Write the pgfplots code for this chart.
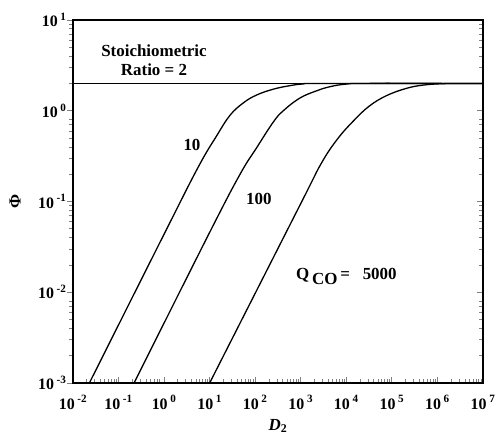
\documentclass[border=0pt]{standalone}
\usepackage{fontspec}
\setmainfont{Liberation Serif}
\usepackage{pgfplots}
\pgfplotsset{compat=1.18}
\usetikzlibrary{calc}

\begin{document}
\begin{tikzpicture}
\begin{axis}[
  scale only axis, width=410bp, height=363bp,
  xmode=log, ymode=log,
  xmin=1e-2, xmax=1e7, ymin=1e-3, ymax=1e1,
  tick align=center,
  xtick pos=bottom, ytick pos=both,
  axis line style={line width=1.2pt},
  major tick length=6bp, minor tick length=4bp,
  major x tick style={line width=1pt, yshift=3bp},
  minor x tick style={line width=0.7pt, yshift=2bp},
  major y tick style={line width=1pt, xshift=-3bp},
  minor y tick style={line width=0.7pt, xshift=-2bp},
  xtick={1e-2,1e-1,1,1e1,1e2,1e3,1e4,1e5,1e6,1e7},
  minor xtick={0.02,0.03,...,0.09,0.2,0.3,...,0.9,2,3,...,9,20,30,...,90,200,300,...,900,
    2000,3000,...,9000,2e4,3e4,4e4,5e4,6e4,7e4,8e4,9e4,2e5,3e5,4e5,5e5,6e5,7e5,8e5,9e5,
    2e6,3e6,4e6,5e6,6e6,7e6,8e6,9e6},
  xticklabels={10\,\textsuperscript{-2},10\,\textsuperscript{-1},10\,\textsuperscript{0},10\,\textsuperscript{1},10\,\textsuperscript{2},10\,\textsuperscript{3},10\,\textsuperscript{4},10\,\textsuperscript{5},10\,\textsuperscript{6},10\,\textsuperscript{7}},
  ytick={1e-3,1e-2,1e-1,1,1e1},
  minor ytick={0.002,0.003,...,0.009,0.02,0.03,...,0.09,0.2,0.3,...,0.9,2,3,...,9},
  yticklabels={10\,\textsuperscript{-3},10\,\textsuperscript{-2},10\,\textsuperscript{-1},10\,\textsuperscript{0},10\,\textsuperscript{1}},
  ticklabel style={font=\fontsize{16}{18}\selectfont\bfseries},
  xticklabel style={yshift=-6bp},
  xlabel={\textbf{\textit{D}}\textsubscript{\textbf{2}}},
  ylabel={\textbf{Φ}},
  label style={font=\fontsize{17}{20}\selectfont},
  xlabel style={at={(axis description cs:0.5,-0.118)}, anchor=center},
  ylabel style={at={(axis description cs:-0.1415,0.5)}, anchor=center},
]
% stoichiometric limit
\addplot[black, line width=1.2pt] coordinates {(1e-2,2) (1e7,2)};

% Q_CO = 10
\addplot[black, line width=1.3pt, smooth, tension=0.65] coordinates {
  (0.0229,0.001) (1,0.0437) (5.62,0.24) (14.26,0.53) (27.9,0.89)
  (54.7,1.22) (107,1.49) (251,1.73) (575,1.89) (1148,1.975)
  (3162,2.0) (1e7,2.0)
};

% Q_CO = 100
\addplot[black, line width=1.3pt, smooth, tension=0.65] coordinates {
  (0.219,0.001) (10,0.0457) (46.4,0.1995) (107,0.39) (249,0.75)
  (413,1.0) (955,1.38) (2239,1.66) (4365,1.84) (10000,1.968)
  (31623,2.0) (1e7,2.0)
};

% Q_CO = 5000
\addplot[black, line width=1.3pt, smooth, tension=0.65] coordinates {
  (10,0.001) (1000,0.095) (2818,0.263) (6310,0.484) (14125,0.767)
  (31623,1.122) (75860,1.466) (208900,1.766) (489800,1.919)
  (1.26e6,1.986) (3.16e6,2.0) (1e7,2.0)
};

\node[align=center, font=\fontsize{17}{19}\selectfont\bfseries] at (axis cs:0.6,3.6)
  {Stoichiometric\\Ratio = 2};
\node[font=\fontsize{17}{19}\selectfont\bfseries] at (axis cs:4.09,0.423) {10};
\node[font=\fontsize{17}{19}\selectfont\bfseries] at (axis cs:120,0.1066) {100};
\node[anchor=base west, font=\fontsize{17}{19}\selectfont\bfseries, inner sep=0pt]
  at (axis cs:785,0.01396) {Q\raisebox{-5bp}{\,CO}\,= \enspace 5000};

\coordinate (sw) at (rel axis cs:0,0);
\coordinate (ne) at (rel axis cs:1,1);
\end{axis}
\pgfresetboundingbox
\path[use as bounding box] ($(sw)+(-73bp,-54bp)$) rectangle ($(ne)+(15bp,20bp)$);
\end{tikzpicture}
\end{document}
